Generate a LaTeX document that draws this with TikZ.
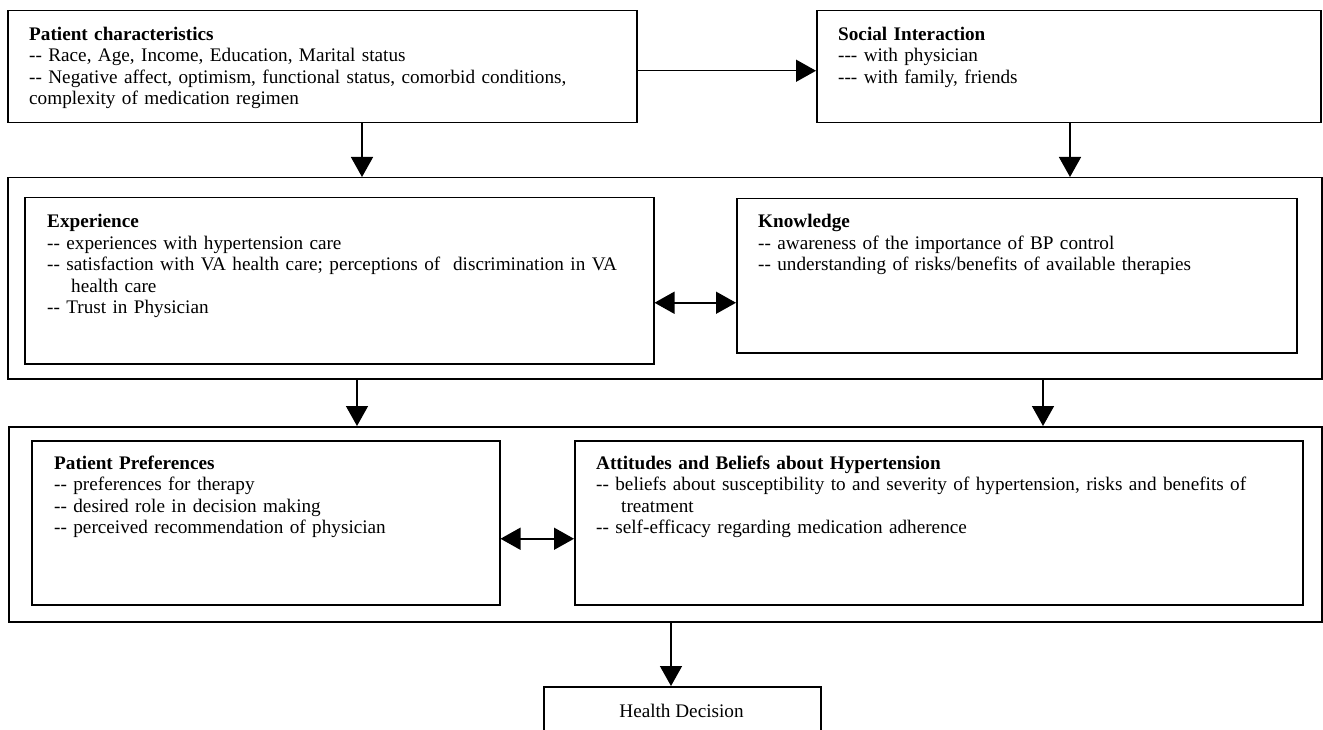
\documentclass[tikz,border=0pt]{standalone}
\usepackage{fontspec}
\setmainfont{Liberation Serif}
\usetikzlibrary{arrows.meta,calc}
\begin{document}
\begin{tikzpicture}[x=1pt,y=-1pt,
  box/.style={draw, line width=1.5pt, inner sep=0pt, anchor=north west},
  txt/.style={anchor=base west, inner sep=0pt, text width=760pt, align=left,
              font=\fontsize{19.2pt}{21.5pt}\selectfont},
  arr/.style={line width=1.5pt, -{Triangle[length=20pt,width=22pt]}},
  darr/.style={line width=1.5pt, {Triangle[length=20pt,width=22pt]}-{Triangle[length=20pt,width=22pt]}}]
\clip (0,0) rectangle (1323,730);
\fill[white] (0,0) rectangle (1323,730);
% boxes
\node[box, minimum width=629pt, minimum height=112pt] (pc) at (7,10) {};
\node[box, minimum width=504pt, minimum height=112pt] (si) at (816,10) {};
\node[box, minimum width=1314pt, minimum height=201pt] (outer1) at (7,177) {};
\node[box, minimum width=629pt, minimum height=166pt] (exp) at (24,197) {};
\node[box, minimum width=560pt, minimum height=154pt] (kn) at (736,198) {};
\node[box, minimum width=1313pt, minimum height=195pt] (outer2) at (8,426) {};
\node[box, minimum width=468pt, minimum height=164pt] (pp) at (31,440) {};
\node[box, minimum width=728pt, minimum height=164pt] (att) at (574,440) {};
\node[box, minimum width=277pt, minimum height=80pt] (hd) at (543,686) {};
% texts
\node[txt] (pct) at (29,40.5) {\textbf{Patient characteristics}\\
-{}- Race, Age, Income, Education, Marital status\\
-{}- Negative affect, optimism, functional status, comorbid conditions,\\
complexity of medication regimen};
\node[txt] (sit) at (838,40.5) {\textbf{Social Interaction}\\
-{}-{}- with physician\\
-{}-{}- with family, friends};
\node[txt] (expt) at (47,228) {\textbf{Experience}\\
-{}- experiences with hypertension care\\
-{}- satisfaction with VA health care; perceptions of\ \ discrimination in VA\\
\hspace*{24pt}health care\\
-{}- Trust in Physician};
\node[txt] (knt) at (758,228) {\textbf{Knowledge}\\
-{}- awareness of the importance of BP control\\
-{}- understanding of risks/benefits of available therapies};
\node[txt] (ppt) at (54,469) {\textbf{Patient Preferences}\\
-{}- preferences for therapy\\
-{}- desired role in decision making\\
-{}- perceived recommendation of physician};
\node[txt] (attt) at (596,469) {\textbf{Attitudes and Beliefs about Hypertension}\\
-{}- beliefs about susceptibility to and severity of hypertension, risks and benefits of\\
\hspace*{25pt}treatment\\
-{}- self-efficacy regarding medication adherence};
\node[anchor=base, inner sep=0pt, font=\fontsize{19.2pt}{21.5pt}\selectfont] (hdt) at (681.5,717) {Health Decision};
% connectors
\coordinate (c1) at ([yshift=-4pt]pc.east);
\draw[arr] (c1) -- (c1 -| si.west);
\coordinate (c2) at ([xshift=355pt]pc.south west);
\draw[arr] (c2) -- (c2 |- outer1.north);
\coordinate (c3) at ([xshift=254pt]si.south west);
\draw[arr] (c3) -- (c3 |- outer1.north);
\coordinate (c4) at ([yshift=-22pt]exp.east);
\draw[darr] (c4) -- (c4 -| kn.west);
\coordinate (c5) at ([xshift=350pt]outer1.south west);
\draw[arr] (c5) -- (c5 |- outer2.north);
\coordinate (c6) at ([xshift=1036pt]outer1.south west);
\draw[arr] (c6) -- (c6 |- outer2.north);
\coordinate (c7) at ([yshift=-16pt]pp.east);
\draw[darr] (c7) -- (c7 -| att.west);
\coordinate (c8) at ([xshift=128pt]hd.north west);
\draw[arr] (c8 |- outer2.south) -- (c8);
\end{tikzpicture}
\end{document}
